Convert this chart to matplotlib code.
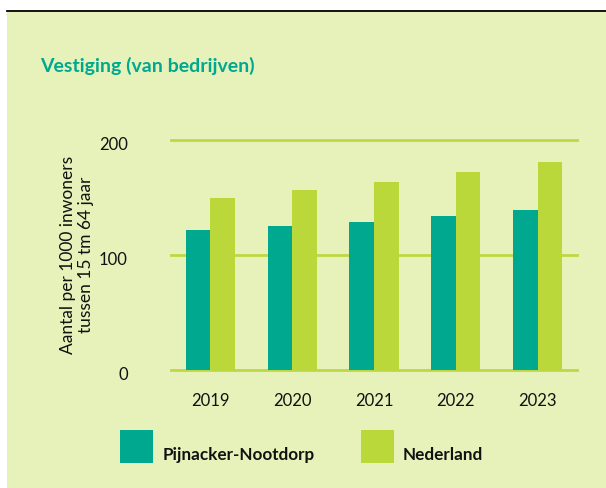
import matplotlib
matplotlib.use("Agg")
import matplotlib.pyplot as plt
import matplotlib.transforms as mtransforms
from matplotlib.patches import Rectangle
from matplotlib.lines import Line2D
import numpy as np

years = ["2019", "2020", "2021", "2022", "2023"]
pijnacker = [121.5, 125, 128.5, 133.5, 139]
nederland = [149.5, 156.5, 163, 172, 180.5]
series_names = ["Pijnacker-Nootdorp", "Nederland"]
yticks = [0, 100, 200]

TEAL = "#00A88F"
LIME = "#BAD839"
BG = "#E7F2BA"
GRID = "#BDD844"
TITLE = "#00A88F"

plt.rcParams['font.family'] = ['Lato', 'DejaVu Sans']

W, H = 606, 488
fig = plt.figure(figsize=(W / 100, H / 100), dpi=100)
fig.patch.set_facecolor("white")

# green panel and top black line
fig.patches.append(Rectangle((7 / W, 0), 1 - 7 / W, 1 - 11 / H, transform=fig.transFigure,
                             facecolor=BG, edgecolor="none", zorder=-10))
fig.lines.append(Line2D([7 / W, 1], [1 - 10.5 / H, 1 - 10.5 / H], transform=fig.transFigure,
                        color="black", linewidth=1.3, zorder=-5))

left, right = 171 / W, 577 / W
bottom = (H - 369.7) / H
top = (H - 139.7) / H
ax = fig.add_axes([left, bottom, right - left, top - bottom])
ax.set_zorder(5)
ax.set_facecolor("none")

x = np.arange(len(years))
bw = 0.3
ax.bar(x - bw / 2, pijnacker, width=bw, color=TEAL, zorder=3)
ax.bar(x + bw / 2, nederland, width=bw, color=LIME, zorder=3)

ax.set_xlim(-0.48, len(years) - 0.52)
ax.set_ylim(0, 200)
for yv in yticks:
    ax.axhline(yv, color=GRID, linewidth=2.0, zorder=2, clip_on=False)

for s in ax.spines.values():
    s.set_visible(False)
ax.set_yticks(yticks)
ax.set_yticklabels([str(v) for v in yticks], fontsize=12, color="#111111")
ax.set_xticks(x)
ax.set_xticklabels(years, fontsize=12, color="#111111")
ax.tick_params(axis="y", length=0, pad=31)
ax.tick_params(axis="x", length=0, pad=17)

shift = mtransforms.ScaledTranslation(0, -4 / 100, fig.dpi_scale_trans)
for lab in ax.get_yticklabels():
    lab.set_transform(lab.get_transform() + shift)

fig.text(77 / W, 1 - 255 / H, "Aantal per 1000 inwoners\ntussen 15 tm 64 jaar",
         rotation=90, ha="center", va="center", fontsize=12.5, color="#111111",
         linespacing=1.2)

fig.text(40 / W, 1 - 66 / H, "Vestiging (van bedrijven)", fontsize=14, fontweight="bold",
         color=TITLE, ha="left", va="center")

# legend
leg = [(120, TEAL, 163), (361, LIME, 403)]
for (sx, col, tx), name in zip(leg, series_names):
    fig.patches.append(Rectangle((sx / W, 1 - 463 / H), 33 / W, 33 / H,
                                 transform=fig.transFigure, facecolor=col, edgecolor="none"))
    fig.text(tx / W, 1 - 455 / H, name, fontsize=12.3, fontweight="bold",
             color="#111111", ha="left", va="center")

fig.savefig("out.png", dpi=100, facecolor=fig.get_facecolor())
